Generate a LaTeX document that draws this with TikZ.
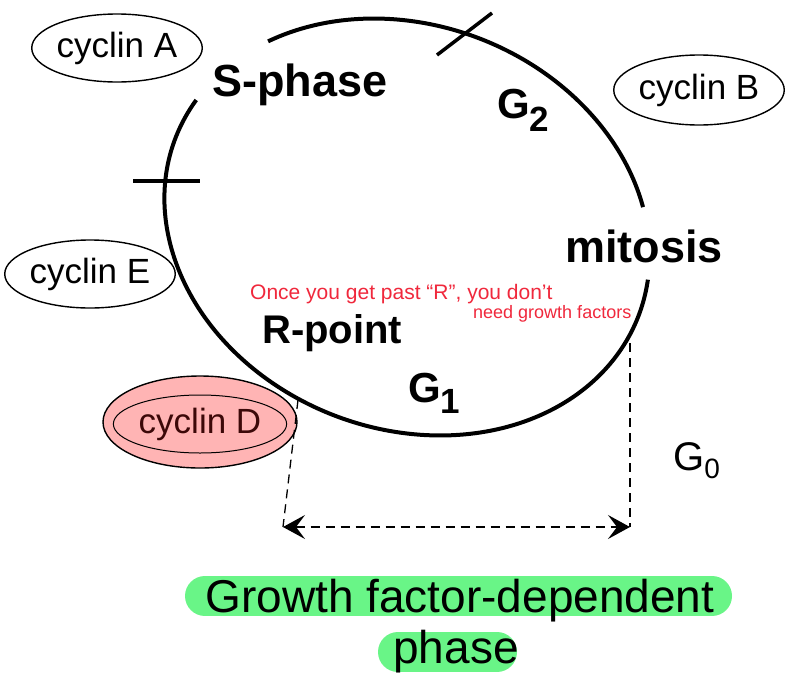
\documentclass[tikz,border=0pt]{standalone}
\usepackage{fontspec}
\setmainfont{Liberation Sans}
\usepackage{graphicx}
\usetikzlibrary{arrows.meta,shapes.geometric}
\definecolor{pinkfill}{RGB}{255,180,180}
\definecolor{darkred}{RGB}{60,8,8}
\definecolor{hlgreen}{RGB}{105,245,135}
\definecolor{penred}{RGB}{240,40,60}
\newcommand\fsz[1]{\fontsize{#1}{#1}\selectfont}
\tikzset{
  cyc/.style={ellipse, draw, line width=1.4pt, inner sep=0pt, font=\fsz{35}, fill=white},
  lbl/.style={inner sep=0pt, font=\bfseries\fsz{45}},
  cycleline/.style={line width=4pt},
  tickline/.style={line width=3.5pt},
  dashline/.style={line width=1.3pt, dash pattern=on 9pt off 6pt},
  hl/.style={line width=40pt, line cap=round, draw=hlgreen},
  pen/.style={inner sep=0pt, text=penred},
}
\begin{document}
\begin{tikzpicture}[x=1pt,y=1pt]
\fill[white] (0,0) rectangle (803,-683);
\useasboundingbox (0,0) rectangle (803,-683);

% cell cycle ellipse with two gaps
\begin{scope}[shift={(407,-227)}, rotate=-21]
  \draw[cycleline] (167.7:248pt and 202pt) arc[start angle=167.7, end angle=370.6, x radius=248pt, y radius=202pt];
  \draw[cycleline] (30.7:248pt and 202pt) arc[start angle=30.7, end angle=142.3, x radius=248pt, y radius=202pt];
\end{scope}

% checkpoint ticks
\coordinate (t1a) at (133,-181);
\coordinate (t1b) at (200,-181);
\coordinate (t2a) at (437,-55);
\coordinate (t2b) at (492,-13);
\draw[tickline] (t1a) -- (t1b);
\draw[tickline] (t2a) -- (t2b);

% cyclins
\node[cyc, minimum width=170pt, minimum height=68pt] (cA) at (117,-48) {cyclin A};
\node[cyc, minimum width=168pt, minimum height=70pt] (cB) at (699,-90) {cyclin B};
\node[cyc, minimum width=170pt, minimum height=68pt] (cE) at (90,-274) {cyclin E};
\node[cyc, fill=pinkfill, minimum width=194pt, minimum height=92pt] (cDo) at (200,-422) {};
\node[cyc, fill=none, line width=1pt, text=darkred, minimum width=166pt, minimum height=58pt] (cD) at (200,-424) {cyclin D};

% phase labels
\node[lbl, anchor=base west] (sph) at (212,-96) {S-phase};
\node[lbl, anchor=base west] (mit) at (565,-262) {mitosis};
\node[lbl, font=\bfseries\fsz{40}, anchor=base west] (rpt) at (262,-343) {R-point};
\node[lbl, font=\bfseries\fsz{42}, anchor=base west] (g2) at (497,-118) {G\raisebox{-13pt}{\fsz{35}2}};
\node[lbl, font=\bfseries\fsz{42}, anchor=base west] (g1) at (408,-402) {G\raisebox{-11pt}{\fsz{35}1}};
\node[inner sep=0pt, font=\fsz{40}, anchor=base west] (g0) at (673,-470) {G\raisebox{-8pt}{\fsz{28}0}};

% handwritten note
\node[pen, font=\fsz{21}, anchor=base west] (note1) at (250,-299) {Once you get past “R”, you don't};
\node[pen, font=\fsz{18}, anchor=base west] (note2) at (473,-318) {need growth factors};

% dashed span
\coordinate (dl1) at (298,-400);
\coordinate (dl2) at (283,-527);
\coordinate (dr1) at (630,-343);
\coordinate (dr2) at (630,-527);
\draw[dashline] (dl1) -- (dl2);
\draw[dashline] (dr1) -- (dr2);
\draw[dashline, {Stealth[length=22pt, width=24pt, inset=9pt]}-{Stealth[length=22pt, width=24pt, inset=9pt]}] (dl2) -- (dr2);

% highlighted caption
\coordinate (h1a) at (205,-596);
\coordinate (h1b) at (712,-596);
\coordinate (h2a) at (398,-652);
\coordinate (h2b) at (497,-652);
\draw[hl] (h1a) -- (h1b);
\draw[hl] (h2a) -- (h2b);
\node[inner sep=0pt, font=\fsz{46}, anchor=base] (gf1) at (460,-612) {Growth factor-dependent};
\node[inner sep=0pt, font=\fsz{46}, anchor=base] (gf2) at (456,-663) {phase};
\end{tikzpicture}
\end{document}
